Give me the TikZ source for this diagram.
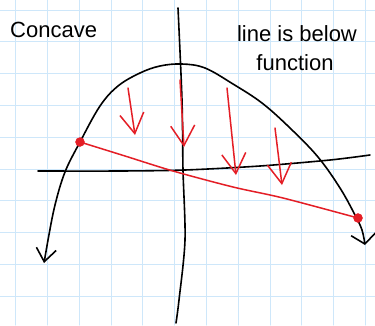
\documentclass[tikz,border=0pt]{standalone}
\usepackage{fontspec}
\setmainfont{Liberation Sans}
\usepackage{xcolor}
\usetikzlibrary{arrows.meta}
\definecolor{gridblue}{RGB}{206,231,250}
\definecolor{inkred}{RGB}{228,30,38}

\begin{document}
\begin{tikzpicture}[x=1pt, y=-1pt, line cap=round, line join=round,
  font=\fontsize{22}{26}\selectfont,
  gridline/.style={gridblue, line width=1pt},
  ink/.style={black, line width=1.6pt},
  redink/.style={inkred, line width=1.5pt},
  drop/.style={redink, -{Straight Barb[length=20pt, width=24pt]}},
  reddot/.style={circle, fill=inkred, draw=inkred, minimum size=9pt, inner sep=0pt}]
% paper
\fill[white] (0,0) rectangle (375,325);
\useasboundingbox (0,0) rectangle (375,325);
\foreach \k in {0,...,11}
  \draw[gridline] ({15.7+31.8*\k},0) -- ({15.7+31.8*\k},325);
\foreach \k in {0,...,9}
  \draw[gridline] (0,{10+31.8*\k}) -- (375,{10+31.8*\k});

% axes
\coordinate (xl) at (38,171);
\coordinate (xr) at (370,155);
\coordinate (yt) at (178,8);
\coordinate (yb) at (176,323);
\draw[ink] plot[smooth] coordinates {(xl) (120,171) (185,170) (260,166) (330,160) (xr)};
\draw[ink] plot[smooth] coordinates {(yt) (182,100) (183,170) (185,240) (179,300) (yb)};

% concave function
\coordinate (lefttip) at (44,263);
\coordinate (top) at (182,64);
\coordinate (righttip) at (365,245);
\draw[ink, {Straight Barb[length=13pt, width=20pt]}-{Straight Barb[length=10pt, width=25pt]}]
  plot[smooth, tension=0.6] coordinates {(lefttip) (48,240) (55,205) (65,172) (80,142)
    (100,106) (118,86) (140,73) (160,66) (top) (205,68) (233,84) (262,103)
    (290,128) (318,157) (340,188) (355,215) (362,230) (righttip)};

% secant line
\node[reddot] (pl) at (80,142) {};
\node[reddot] (pr) at (358,218) {};
\draw[redink] plot[smooth] coordinates {(pl.center) (125,156) (173,171) (233,187) (283,198) (pr.center)};

% arrows down to the line
\coordinate (a1) at (128,88);  \coordinate (b1) at (135,135);
\coordinate (a2) at (180,80);  \coordinate (b2) at (184,147);
\coordinate (a3) at (227,88);  \coordinate (b3) at (236,175);
\coordinate (a4) at (275,128); \coordinate (b4) at (282,185);
\foreach \i in {1,...,4}
  \draw[drop] (a\i) -- (b\i);

% labels
\node[anchor=base west, inner sep=0pt] (concave) at (10,37) {Concave};
\node[anchor=base, inner sep=0pt] (below) at (297,41) {line is below};
\node[anchor=base, inner sep=0pt] (func) at (295,70) {function};
\end{tikzpicture}
\end{document}
